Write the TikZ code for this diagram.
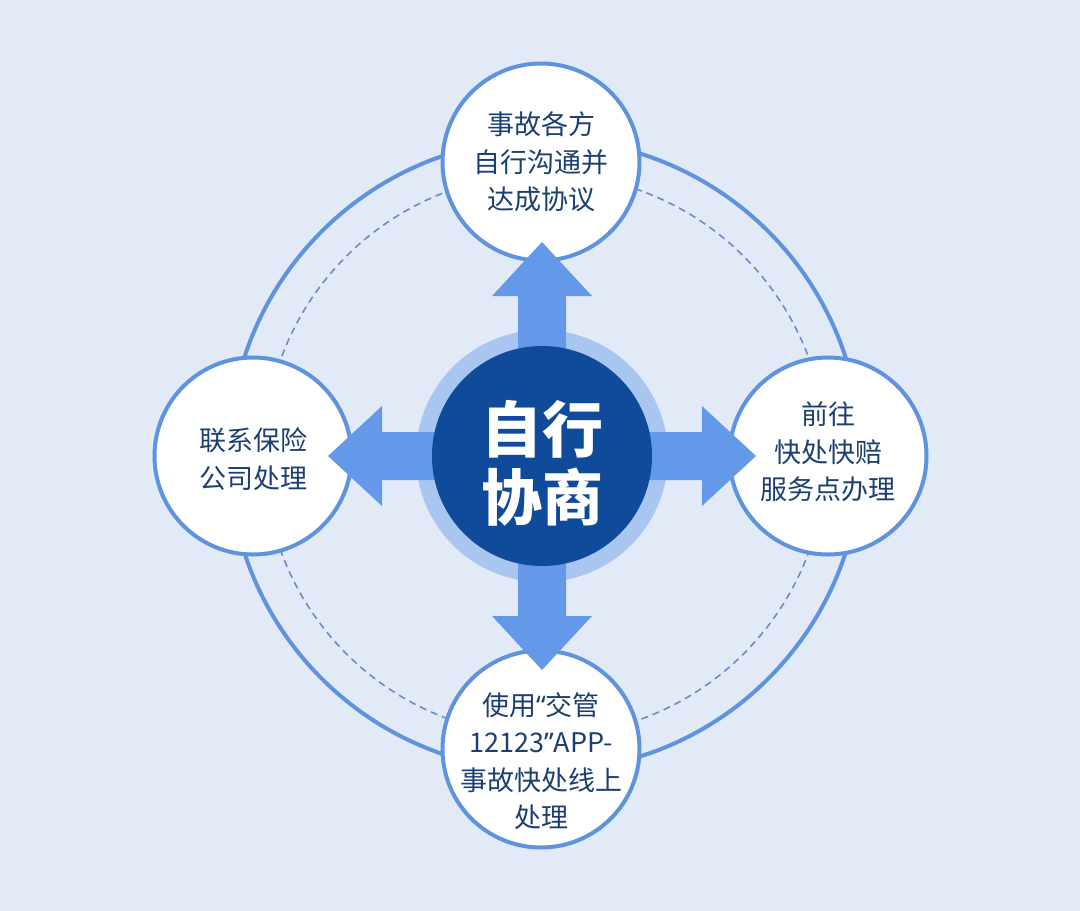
\documentclass[tikz,border=0pt]{standalone}
\usepackage{fontspec}
\setmainfont{Noto Sans CJK SC}
\newfontfamily\latq{Noto Sans}
\usetikzlibrary{calc}
\definecolor{bgc}{HTML}{E2EAF7}
\definecolor{ringc}{HTML}{5F93DE}
\definecolor{dashc}{HTML}{6C8DC2}
\definecolor{arrowc}{HTML}{6399E8}
\definecolor{haloc}{HTML}{A9C6F0}
\definecolor{darkc}{HTML}{0F4A9B}
\definecolor{txtc}{HTML}{1C3F73}
\tikzset{
  leaf/.style={circle, draw=ringc, line width=4pt, fill=white, minimum size=197pt, inner sep=0pt},
  leaftext/.style={align=center, text=txtc, font=\fontsize{27}{37.5}\selectfont, inner sep=0pt},
  bigarrow/.style={fill=arrowc},
  centertext/.style={align=center, text=white, font=\fontsize{61}{68}\selectfont\bfseries, inner sep=0pt}
}
\begin{document}
\begin{tikzpicture}[x=1pt,y=-1pt]
\fill[bgc] (0,0) rectangle (1080,911);
\useasboundingbox (0,0) rectangle (1080,911);
% rings
\coordinate (ringc0) at (545,455);
\draw[ringc, line width=4pt] (ringc0) circle[radius=316];
\draw[dashc, line width=1.6pt, dash pattern=on 7pt off 5pt] (ringc0) circle[radius=281];
% outer nodes
\node[leaf] (top) at (541,162) {};
\node[leaf] (left) at (253,456) {};
\node[leaf] (right) at (828,456) {};
\node[leaf] (bottom) at (541,749) {};
% halo
\node[circle, fill=haloc, minimum size=252pt, inner sep=0pt] (halo) at (542,456) {};
% arrows
\foreach \r in {0,90,180,270}{
  \begin{scope}[shift={(halo.center)}, rotate=\r]
    \fill[bigarrow] (-24,0) -- (-24,-160) -- (-50,-160) -- (0,-214) -- (50,-160) -- (24,-160) -- (24,0) -- cycle;
  \end{scope}
}
% center
\node[circle, fill=darkc, minimum size=220pt, inner sep=0pt] (center) at (halo.center) {};
\node[centertext] (ctext) at (542,463) {自行\\协商};
% texts
\node[leaftext] (toptext) at (top.center) {事故各方\\自行沟通并\\达成协议};
\node[leaftext] (lefttext) at ($(left.center)+(0,3)$) {联系保险\\公司处理};
\node[leaftext] (righttext) at ($(right.center)+(0,-4)$) {前往\\快处快赔\\服务点办理};
\node[leaftext] (bottomtext) at ($(bottom.center)+(0,12)$) {使用{\latq “}交管\\12123{\latq ”}APP-\\事故快处线上\\处理};
\end{tikzpicture}
\end{document}
